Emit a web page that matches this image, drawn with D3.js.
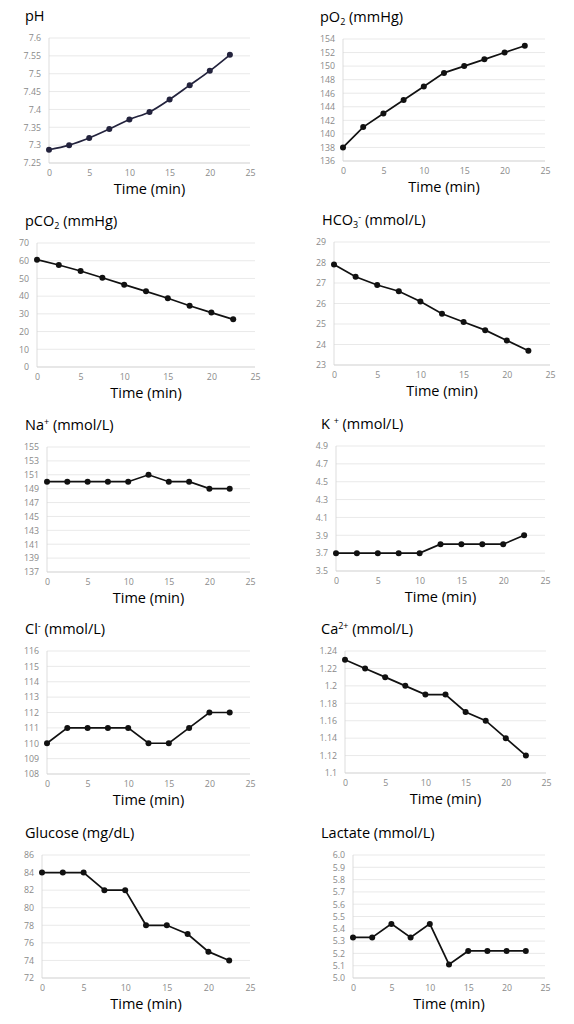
<!DOCTYPE html>
<html>
<head>
<meta charset="utf-8">
<script src="https://cdn.jsdelivr.net/npm/d3@7"></script>
<style>
  body { margin: 0; background: #fff; }
  svg { display: block; }
  text { font-family: "Open Sans", sans-serif; }
  .tick-label { fill: #8a8a8a; font-size: 8.8px; }
  .grid line { stroke: #e3e3e3; stroke-width: 0.8; }
</style>
</head>
<body>
<svg id="chart" width="574" height="1024"></svg>
<script>
// sample times (min)
var times = [0, 2.5, 5, 7.5, 10, 12.5, 15, 17.5, 20, 22.5];
var xTicks = [0, 5, 10, 15, 20, 25];

// series values
var pH      = [7.287, 7.300, 7.320, 7.345, 7.372, 7.393, 7.428, 7.468, 7.508, 7.553];
var pO2     = [138, 141, 143, 145, 147, 149, 150, 151, 152, 153];
var pCO2    = [60.6, 57.6, 54.2, 50.4, 46.5, 42.7, 38.8, 34.6, 30.7, 26.9];
var hco3    = [27.9, 27.3, 26.9, 26.6, 26.1, 25.5, 25.1, 24.7, 24.2, 23.7];
var sodium  = [150, 150, 150, 150, 150, 151, 150, 150, 149, 149];
var potass  = [3.7, 3.7, 3.7, 3.7, 3.7, 3.8, 3.8, 3.8, 3.8, 3.9];
var chlor   = [110, 111, 111, 111, 111, 110, 110, 111, 112, 112];
var calcium = [1.23, 1.22, 1.21, 1.20, 1.19, 1.19, 1.17, 1.16, 1.14, 1.12];
var glucose = [84, 84, 84, 82, 82, 78, 78, 77, 75, 74];
var lactate = [5.33, 5.33, 5.44, 5.33, 5.44, 5.11, 5.22, 5.22, 5.22, 5.22];

// y tick values
var pHTicks   = [7.25, 7.3, 7.35, 7.4, 7.45, 7.5, 7.55, 7.6];
var pO2Ticks  = [136, 138, 140, 142, 144, 146, 148, 150, 152, 154];
var pCO2Ticks = [0, 10, 20, 30, 40, 50, 60, 70];
var hco3Ticks = [23, 24, 25, 26, 27, 28, 29];
var naTicks   = [137, 139, 141, 143, 145, 147, 149, 151, 153, 155];
var kTicks    = [3.5, 3.7, 3.9, 4.1, 4.3, 4.5, 4.7, 4.9];
var clTicks   = [108, 109, 110, 111, 112, 113, 114, 115, 116];
var caTicks   = [1.1, 1.12, 1.14, 1.16, 1.18, 1.2, 1.22, 1.24];
var gluTicks  = [72, 74, 76, 78, 80, 82, 84, 86];
var lacTicks  = [5.0, 5.1, 5.2, 5.3, 5.4, 5.5, 5.6, 5.7, 5.8, 5.9, 6.0];

// titles as [text, kind] pieces
var titles = [
  [["pH"]],
  [["pO"], ["2", "sub"], [" (mmHg)"]],
  [["pCO"], ["2", "sub"], [" (mmHg)"]],
  [["HCO"], ["3", "sub"], ["-", "sup"], [" (mmol/L)"]],
  [["Na"], ["+", "sup"], [" (mmol/L)"]],
  [["K "], ["+", "sup"], [" (mmol/L)"]],
  [["Cl"], ["-", "sup"], [" (mmol/L)"]],
  [["Ca"], ["2+", "sup"], [" (mmol/L)"]],
  [["Glucose (mg/dL)"]],
  [["Lactate (mmol/L)"]]
];

var series = [pH, pO2, pCO2, hco3, sodium, potass, chlor, calcium, glucose, lactate];
var yTicks = [pHTicks, pO2Ticks, pCO2Ticks, hco3Ticks, naTicks, kTicks, clTicks, caTicks, gluTicks, lacTicks];

// plot boxes: left, top, right, bottom
var boxes = [
  [49, 38, 250, 163],  [343, 39, 545, 161],
  [37, 243, 255, 367], [334, 242, 550, 365],
  [47, 447, 250, 572], [336, 446, 545, 571],
  [47, 651, 250, 774], [345, 651, 546, 773],
  [42, 855, 250, 978], [353, 855, 545, 978]
];
var titleX = [25, 320, 25, 322, 25, 321, 25, 321, 25, 321];

var svg = d3.select("#chart");

function plainLabels(s){
  s.select(".domain").remove();
  s.selectAll("text").attr("class", "tick-label")
    .attr("font-family", null).attr("font-size", null).attr("fill", null);
}

series.forEach(function(vals, i){
  var b = boxes[i], ticks = yTicks[i];
  var g = svg.append("g");

  var x = d3.scaleLinear().domain([0, 25]).range([b[0], b[2]]);
  var y = d3.scaleLinear().domain([ticks[0], ticks[ticks.length-1]]).range([b[3], b[1]]);
  var fmt = (i == 9) ? d3.format(".1f") : function(v){ return String(+v.toFixed(3)); };

  // horizontal gridlines
  g.append("g").attr("class", "grid")
    .selectAll("line").data(ticks).enter().append("line")
    .attr("x1", b[0]).attr("x2", b[2])
    .attr("y1", function(d){ return y(d); }).attr("y2", function(d){ return y(d); });

  // axis lines (light)
  g.append("line").attr("x1", b[0]).attr("x2", b[0]).attr("y1", b[1]).attr("y2", b[3])
    .attr("stroke", "#d4d4d4").attr("stroke-width", 0.8);
  g.append("line").attr("x1", b[0]).attr("x2", b[2]).attr("y1", b[3]).attr("y2", b[3])
    .attr("stroke", "#d4d4d4").attr("stroke-width", 0.8);

  // y axis labels
  var ya = d3.axisLeft(y).tickValues(ticks).tickSize(0).tickPadding(8).tickFormat(fmt);
  g.append("g").attr("transform", "translate(" + b[0] + ",0)").call(ya).call(plainLabels);

  // x axis labels
  var xa = d3.axisBottom(x).tickValues(xTicks).tickSize(0).tickPadding(7);
  g.append("g").attr("transform", "translate(0," + b[3] + ")").call(xa).call(plainLabels);

  // x title
  g.append("text").attr("x", (b[0] + b[2]) / 2).attr("y", b[3] + 31)
    .attr("text-anchor", "middle").attr("font-size", 14.5).attr("fill", "#000")
    .text("Time (min)");

  // panel title
  var t = g.append("text").attr("x", titleX[i]).attr("y", b[1] - 17)
    .attr("font-size", 14.5).attr("fill", "#000");
  var shift = 0;
  titles[i].forEach(function(p){
    var ts = t.append("tspan").text(p[0]);
    var want = p[1] == "sub" ? 3 : (p[1] == "sup" ? -5 : 0);
    if (p[1]) ts.attr("font-size", 9);
    if (want != shift) { ts.attr("dy", want - shift); shift = want; }
  });

  var pts = times.map(function(tm, k){ return [tm, vals[k]]; });
  var col = (i == 0) ? "#23233d" : "#111";
  var line = d3.line().x(function(d){ return x(d[0]); }).y(function(d){ return y(d[1]); });
  if (i == 0) line.curve(d3.curveMonotoneX);

  g.append("path").datum(pts).attr("d", line)
    .attr("fill", "none").attr("stroke", col).attr("stroke-width", 1.7);

  g.selectAll("circle.pt").data(pts).enter().append("circle")
    .attr("class", "pt")
    .attr("cx", function(d){ return x(d[0]); })
    .attr("cy", function(d){ return y(d[1]); })
    .attr("r", 3).attr("fill", col);
});
</script>
</body>
</html>
